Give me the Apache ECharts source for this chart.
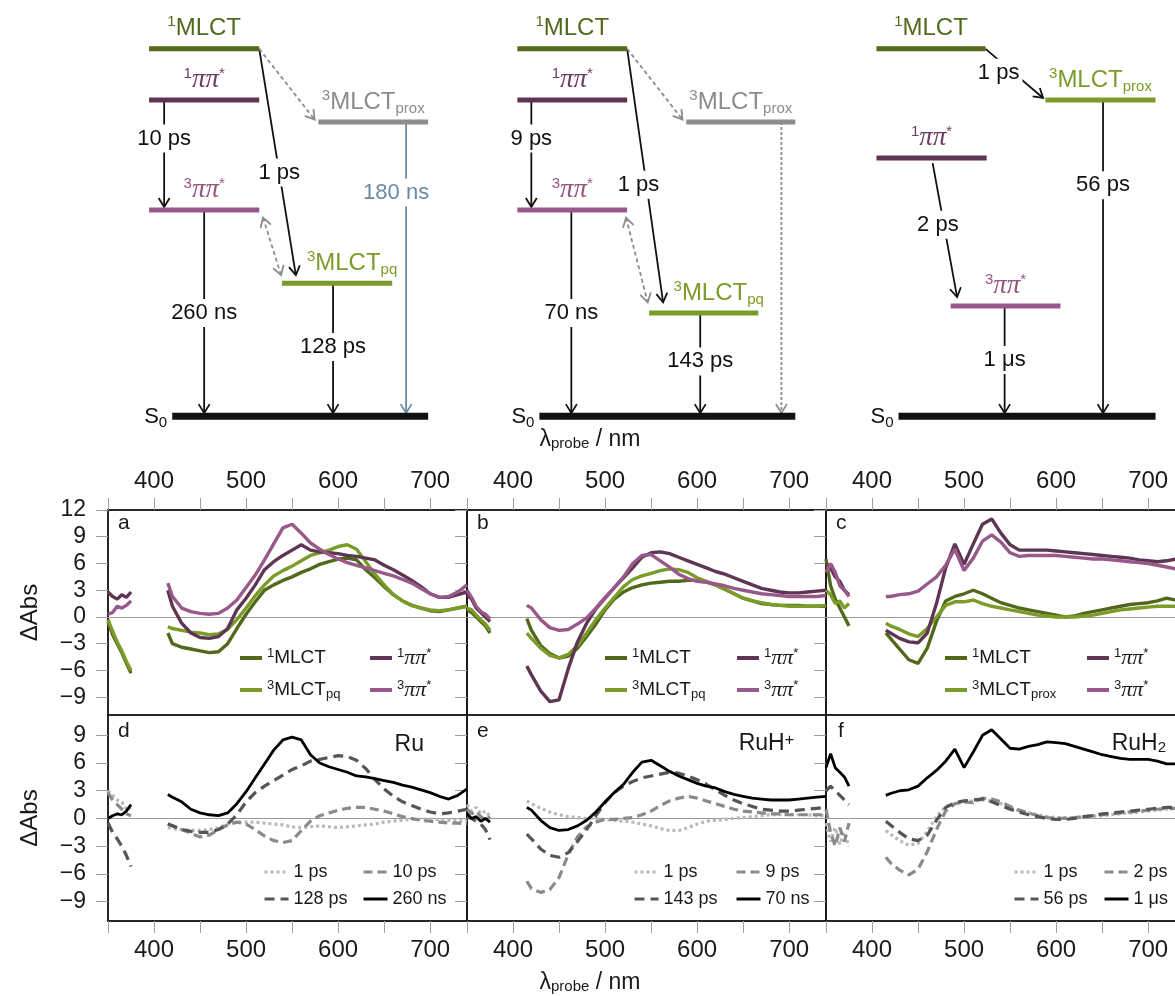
<!DOCTYPE html>
<html><head><meta charset="utf-8">
<script src="https://cdn.jsdelivr.net/npm/echarts@6/dist/echarts.min.js"></script>
<style>html,body{margin:0;padding:0;background:#fff}#c{width:1175px;height:996px}</style>
</head><body><div id="c"></div>
<script>
// ---------------- DATA ----------------
const lam = [350,355,360,365,370,375,395,415,420,430,440,450,460,470,480,490,500,510,520,530,540,550,560,570,580,590,600,610,620,630,640,650,660,670,680,690,700,710,720,730,740];
// panel a (Ru, state spectra)
const a_1MLCT = [-0.5,-2.0,-3.0,-4.0,-5.2,-6.3,null,-1.8,-3.0,-3.4,-3.6,-3.8,-4.0,-3.9,-3.0,-1.3,0.3,1.7,3.0,3.6,4.1,4.5,5.0,5.4,5.9,6.2,6.5,6.6,6.4,5.3,4.4,3.4,2.5,1.8,1.3,1.0,0.7,0.6,0.8,1.0,1.2];
const a_3MLCT = [-0.3,-1.6,-2.8,-3.8,-5.0,-6.0,null,-1.1,-1.3,-1.5,-1.7,-1.8,-2.0,-1.9,-1.4,-0.3,1.0,2.4,3.6,4.6,5.2,5.7,6.3,6.9,7.2,7.5,7.9,8.1,7.6,6.2,4.8,3.6,2.5,1.8,1.3,1.0,0.8,0.7,0.8,1.0,1.2];
const a_1pp = [2.8,2.3,2.0,2.5,2.2,2.8,null,3.0,1.2,-0.7,-1.8,-2.3,-2.4,-2.2,-1.3,0.8,2.1,3.6,5.3,6.2,6.9,7.5,8.1,7.5,7.3,7.2,7.1,6.9,6.8,6.6,6.4,5.8,5.3,4.7,4.1,3.4,2.6,2.2,2.2,2.5,2.8];
const a_3pp = [0.3,0.5,1.2,1.0,1.3,1.8,null,3.8,2.3,1.0,0.6,0.4,0.3,0.4,1.0,1.9,3.3,4.7,6.4,8.2,10.0,10.4,9.4,8.3,7.6,7.0,6.5,6.1,5.8,5.5,5.2,4.9,4.6,4.2,3.8,3.2,2.6,2.2,2.3,2.8,3.6];
// panel b (RuH+)
const b_1MLCT = [0.8,0.5,0.0,-0.5,-1.0,-1.8,null,-0.2,-1.5,-3.2,-4.1,-4.6,-4.4,-3.5,-2.2,-0.8,0.8,2.0,2.8,3.3,3.6,3.8,3.9,4.0,4.0,4.1,4.1,3.9,3.6,3.1,2.6,2.1,1.8,1.5,1.4,1.3,1.3,1.3,1.2,1.2,1.2];
const b_3MLCT = [1.0,0.8,0.2,-0.3,-0.8,-1.5,null,-1.8,-2.4,-3.5,-4.3,-4.6,-4.2,-3.2,-1.8,-0.3,1.0,2.2,3.4,4.2,4.6,4.9,5.2,5.4,5.3,5.0,4.4,4.0,3.6,3.1,2.6,2.1,1.8,1.6,1.4,1.3,1.2,1.2,1.2,1.2,1.3];
const b_1pp = [2.5,2.0,1.0,0.5,0.0,-0.5,null,-5.5,-6.5,-8.3,-9.5,-9.3,-5.8,-2.8,-0.7,0.9,2.1,3.3,4.4,5.5,6.7,7.2,7.3,7.1,6.7,6.3,5.9,5.5,5.1,4.8,4.4,4.0,3.6,3.2,3.0,2.8,2.7,2.7,2.8,2.9,3.0];
const b_3pp = [3.0,2.2,1.2,0.6,0.3,-0.2,null,1.3,1.0,-0.3,-1.2,-1.5,-1.4,-0.8,-0.1,1.0,2.2,3.3,4.5,6.0,6.9,7.0,6.3,5.6,4.8,4.3,4.0,3.9,3.7,3.5,3.2,3.0,2.8,2.6,2.5,2.4,2.3,2.3,2.3,2.3,2.4];
// panel c (RuH2)
const c_1MLCT = [6.5,3.5,2.0,1.0,0.0,-1.0,null,-1.8,-2.4,-3.6,-4.8,-5.2,-3.5,-0.5,1.8,2.3,2.6,3.0,2.6,2.1,1.6,1.3,1.0,0.8,0.6,0.4,0.2,0.0,0.1,0.4,0.6,0.8,1.0,1.2,1.4,1.5,1.6,1.8,2.1,1.9,1.8];
const c_3MLCT = [3.0,2.5,1.5,1.8,1.0,1.5,null,-0.7,-1.0,-1.4,-1.9,-2.2,-1.3,0.0,1.3,1.7,1.7,1.9,1.5,1.2,1.0,0.8,0.6,0.4,0.2,0.1,0.0,0.0,0.0,0.1,0.2,0.4,0.6,0.8,0.9,1.0,1.1,1.2,1.2,1.2,1.2];
const c_1pp = [6.0,5.5,4.5,4.0,3.0,2.5,null,-1.5,-1.8,-2.4,-2.8,-2.9,-1.8,1.5,5.5,8.2,5.9,8.2,10.4,11.0,9.4,8.1,7.5,7.5,7.5,7.5,7.4,7.3,7.2,7.1,7.0,6.9,6.8,6.7,6.6,6.4,6.3,6.2,6.3,6.5,6.6];
const c_3pp = [5.0,6.0,5.0,3.5,3.0,2.3,null,2.3,2.3,2.5,2.6,2.9,3.7,4.5,5.8,7.6,5.2,6.6,8.5,9.2,8.4,7.2,6.8,6.9,6.9,6.9,6.9,6.8,6.7,6.6,6.5,6.5,6.4,6.3,6.2,6.1,6.0,5.8,5.6,5.4,5.3];
// panel d (Ru, time-delay spectra)
const d_1ps = [3.0,2.5,2.0,1.8,1.0,1.2,null,-1.0,-1.1,-1.2,-1.3,-1.3,-1.2,-1.0,-0.6,-0.4,-0.4,-0.4,-0.5,-0.6,-0.7,-0.9,-1.0,-0.9,-0.8,-0.9,-1.0,-0.9,-0.8,-0.7,-0.6,-0.4,-0.3,-0.2,-0.1,-0.1,-0.1,-0.1,-0.2,-0.2,-0.3];
const d_10ps = [2.8,2.0,1.5,1.0,0.5,0.3,null,-0.6,-0.8,-1.2,-1.6,-2.0,-1.8,-1.2,-0.7,-0.4,-0.6,-1.2,-1.9,-2.4,-2.6,-2.4,-1.3,-0.3,0.3,0.6,0.9,1.1,1.2,1.2,1.0,0.8,0.5,0.2,0.0,-0.2,-0.3,-0.4,-0.5,-0.5,-0.6];
const d_128ps = [-0.5,-1.5,-2.2,-3.0,-4.0,-5.2,null,-0.6,-0.8,-1.2,-1.4,-1.5,-1.5,-1.2,-0.6,0.4,1.8,2.8,3.5,4.1,4.7,5.3,5.7,6.2,6.4,6.6,6.8,6.7,6.3,5.4,4.2,3.2,2.4,1.8,1.4,1.0,0.7,0.5,0.6,0.8,1.0];
const d_260ns = [0.0,0.3,0.5,0.4,0.8,1.5,null,2.6,2.3,1.8,1.0,0.6,0.4,0.3,0.6,1.6,2.9,4.4,5.9,7.4,8.5,8.8,8.5,6.9,6.0,5.6,5.3,5.0,4.6,4.5,4.3,4.1,3.9,3.6,3.4,3.1,2.8,2.4,2.1,2.5,3.2];
// panel e (RuH+)
const e_1ps = [1.5,0.8,1.2,0.5,0.8,0.2,null,1.9,1.6,1.1,0.7,0.4,0.2,0.1,0.0,0.0,-0.1,-0.2,-0.3,-0.4,-0.6,-0.8,-1.1,-1.3,-1.3,-1.0,-0.6,-0.3,-0.2,-0.1,0.0,0.1,0.2,0.3,0.4,0.4,0.4,0.4,0.4,0.3,0.3];
const e_9ps = [1.0,0.5,0.8,0.2,-0.2,0.2,null,-6.8,-7.6,-8.0,-7.7,-6.4,-3.9,-2.0,-0.9,-0.4,-0.1,-0.1,0.0,0.1,0.4,0.8,1.4,1.9,2.2,2.4,2.2,1.9,1.6,1.3,1.0,0.8,0.7,0.6,0.5,0.5,0.4,0.4,0.4,0.4,0.4];
const e_143ps = [0.2,0.0,-0.3,-0.6,-1.2,-2.3,null,-1.7,-2.2,-3.3,-4.0,-4.2,-3.7,-2.5,-1.2,0.3,1.7,2.8,3.5,4.0,4.4,4.6,4.8,5.0,4.9,4.6,4.2,3.7,3.1,2.5,2.0,1.6,1.3,1.0,0.9,0.8,0.8,0.9,1.0,1.1,1.2];
const e_70ns = [0.5,0.0,0.2,-0.3,0.0,-0.4,null,1.2,0.9,-0.2,-1.0,-1.3,-1.2,-0.8,-0.2,0.7,1.8,2.8,3.7,5.0,6.1,6.3,5.7,5.1,4.6,4.2,3.8,3.5,3.3,2.9,2.6,2.4,2.2,2.1,2.0,2.0,2.0,2.1,2.2,2.3,2.4];
// panel f (RuH2)
const f_1ps = [-0.5,-2.5,-1.0,-2.8,-1.5,-3.0,null,-1.3,-1.7,-2.4,-2.9,-2.7,-1.4,0.2,1.3,1.6,1.8,1.9,2.0,1.9,1.6,1.2,0.8,0.6,0.4,0.2,0.1,0.1,0.1,0.1,0.2,0.3,0.4,0.5,0.6,0.7,0.8,0.9,1.0,1.1,1.1];
const f_2ps = [1.0,-1.5,-3.0,-1.0,-2.5,-0.5,null,-4.2,-4.8,-5.6,-6.1,-5.5,-3.6,-1.2,0.8,1.6,1.8,1.7,2.2,2.1,1.8,1.3,0.9,0.6,0.3,0.1,0.0,0.0,0.1,0.2,0.3,0.4,0.5,0.6,0.7,0.8,0.9,1.0,1.1,1.1,1.1];
const f_56ps = [3.0,3.5,3.0,2.5,2.0,1.5,null,-0.3,-0.7,-1.5,-2.2,-2.4,-1.8,-0.2,1.2,1.7,1.9,2.0,2.1,1.8,1.4,1.0,0.7,0.4,0.2,0.0,-0.1,-0.1,0.0,0.2,0.3,0.5,0.6,0.7,0.8,0.9,1.0,1.1,1.2,1.2,1.2];
const f_1us = [5.5,7.0,5.5,5.0,4.5,3.5,null,2.5,2.7,3.0,3.1,3.5,4.4,5.2,6.2,7.5,5.5,7.2,9.0,9.6,8.6,7.6,7.5,7.8,8.0,8.3,8.2,8.1,7.8,7.5,7.2,6.9,6.7,6.5,6.4,6.4,6.4,6.2,5.9,5.9,6.0];

const xTickLabels = [400,500,600,700];
const yTicksTop = [-9,-6,-3,0,3,6,9,12];
const yTicksBottom = [-9,-6,-3,0,3,6,9];

// Energy-level schemes: [state, columnFrom, columnTo, energy]
const levelsRu   = [['1MLCT',4.06,7.06,10.0],['1pp',4.06,7.06,8.61],['3MLCTproxG',8.67,11.66,8.01],['3pp',4.06,7.06,5.61],['3MLCTpq',7.68,10.68,3.62],['S0',4.69,11.66,0]];
const levelsRuH  = [['1MLCT',14.09,17.08,10.0],['1pp',14.09,17.08,8.61],['3MLCTproxG',18.69,21.66,8.01],['3pp',14.09,17.08,5.61],['3MLCTpq',17.68,20.65,2.81],['S0',14.69,21.66,0]];
const levelsRuH2 = [['1MLCT',23.87,26.84,10.0],['3MLCTprox',28.47,31.47,8.61],['1pp',23.87,26.87,7.03],['3pp',25.89,28.88,3.0],['S0',24.47,31.47,0]];
// transitions: [colFrom, Efrom, colTo, Eto, kind, lifetime label]
const transRu = [[4.47,8.61,4.47,5.61,'k','10 ps'],[7.06,10.0,8.07,3.76,'k','1 ps'],[7.06,10.0,8.62,8.01,'dash',''],[7.14,5.48,7.68,3.76,'dash2',''],[5.56,5.61,5.56,0,'k','260 ns'],[9.07,3.62,9.07,0,'k','128 ps'],[11.06,8.01,11.06,0,'blue','180 ns']];
const transRuH = [[14.47,8.61,14.47,5.61,'k','9 ps'],[17.08,10.0,18.07,3.02,'k','1 ps'],[17.08,10.0,18.64,8.01,'dash',''],[17.03,5.48,17.66,3.02,'dash2',''],[15.56,5.61,15.56,0,'k','70 ns'],[19.07,2.81,19.07,0,'k','143 ps'],[21.28,8.01,21.28,0,'dot','']];
const transRuH2 = [[26.84,10.0,28.47,8.61,'k','1 ps'],[25.40,6.89,26.08,3.16,'k','2 ps'],[27.36,3.0,27.36,0,'k','1 μs'],[30.04,8.61,30.04,0,'k','56 ps']];
// label placement along arrows (fraction, horizontal nudge) – layout only
const transLabelPos = {
  Ru:[[0.35,0],[0.54,0],null,null,[0.5,0],[0.48,0],[0.24,-10]],
  RuH:[[0.35,0],[0.53,-8],null,null,[0.5,0],[0.47,0],null],
  RuH2:[[0.47,-15],[0.45,-6],[0.49,0],[0.27,0]]
};

// ---------------- STYLE / LAYOUT ----------------
const FF = 'Liberation Sans';
const C1M = '#52691c', C3M = '#7b9c28', C1P = '#5e3553', C3P = '#98588a', CG = '#8c8c8c', CB = '#6a89a6';
const LBL = {
  '1MLCT':'{sup|1}MLCT','3MLCTpq':'{sup|3}MLCT{sub|pq}','3MLCTprox':'{sup|3}MLCT{sub|prox}','3MLCTproxG':'{sup|3}MLCT{sub|prox}',
  '1pp':'{sup|1}{pi|ππ}{sup|*}','3pp':'{sup|3}{pi|ππ}{sup|*}'
};
const gridLefts = [108,467,826], gridW = 359;
const rowTop = [510,715], rowH = [205,206];
const yRange = [[-11,12],[-11.1,11.2]];

const grids = [], xAxes = [], yAxes = [];
for (let r=0;r<2;r++) for (let c=0;c<3;c++) {
  const gi = grids.length;
  grids.push({left:gridLefts[c], top:rowTop[r], width:gridW, height:rowH[r], show:true, borderColor:'#1a1a1a', borderWidth:1.5, backgroundColor:'transparent', containLabel:false, outerBoundsMode:'none'});
  xAxes.push({gridIndex:gi, type:'value', min:350, max:740, interval:50, position: r===0?'top':'bottom',
    axisLine:{show:true, onZero:false, lineStyle:{color:'#1a1a1a', width:1.5}},
    axisTick:{show:true, length:12, inside:false, lineStyle:{color:'#a0a0a0', width:1}},
    axisLabel:{show:true, margin:17, fontSize:24, fontFamily:FF, color:'#1a1a1a', formatter: v => xTickLabels.includes(v) ? String(v) : ''},
    splitLine:{show:false}});
  const ticks = r===0 ? yTicksTop : yTicksBottom;
  yAxes.push({gridIndex:gi, type:'value', min:yRange[r][0], max:yRange[r][1],
    name: c===0 ? 'ΔAbs' : '', nameLocation:'middle', nameGap:66, nameRotate:90,
    nameTextStyle:{fontSize:24, fontFamily:FF, color:'#1a1a1a'},
    axisLine:{show:true, onZero:false, lineStyle:{color:'#1a1a1a', width:1.5}},
    axisTick:{show:true, length:12, inside:false, customValues:ticks, lineStyle:{color:'#a0a0a0', width:1}},
    axisLabel:{show:c===0, customValues:ticks, margin:22, fontSize:23, fontFamily:FF, color:'#1a1a1a', formatter: v => v<0 ? '\u2212'+Math.abs(v) : String(v)},
    splitLine:{show:false}});
}
// schematic grid (energy diagrams)
grids.push({left:0, top:0, width:1175, height:440, show:false, outerBoundsMode:'none'});
xAxes.push({gridIndex:6, type:'value', min:0, max:32, show:false});
yAxes.push({gridIndex:6, type:'value', min:-0.65, max:11.33, show:false});

const STY = {
  '1MLCT':{color:C1M, width:3.4, type:'solid'}, '3MLCTpq':{color:C3M, width:3.4, type:'solid'}, '3MLCTprox':{color:C3M, width:3.4, type:'solid'},
  '1pp':{color:C1P, width:3.4, type:'solid'}, '3pp':{color:C3P, width:3.4, type:'solid'},
  't1':{color:'#b9b9b9', width:3.2, type:[3,3]}, 't2':{color:'#8a8a8a', width:3.2, type:[9,5]},
  't3':{color:'#555555', width:3.2, type:[10,6]}, 't4':{color:'#000000', width:2.8, type:'solid'}
};
const series = [];
function addLine(gi, name, styleKey, vals, zero) {
  const st = STY[styleKey];
  const s = {type:'line', name, xAxisIndex:gi, yAxisIndex:gi, data: lam.map((x,i)=>[x, vals[i]]),
    symbol:'none', showSymbol:false, connectNulls:false, silent:true, animation:false,
    lineStyle:{color:st.color, width:st.width, type:st.type}, itemStyle:{color:st.color}, z:3};
  if (zero) s.markLine = {silent:true, symbol:['none','none'], label:{show:false}, animation:false,
    lineStyle:{color:'#9a9a9a', type:'solid', width:1.2}, data:[{yAxis:0}], z:1};
  series.push(s);
}
addLine(0,'1MLCT','1MLCT',a_1MLCT,true); addLine(0,'3MLCTpq','3MLCTpq',a_3MLCT); addLine(0,'1pp','1pp',a_1pp); addLine(0,'3pp','3pp',a_3pp);
addLine(1,'1MLCT','1MLCT',b_1MLCT,true); addLine(1,'3MLCTpq','3MLCTpq',b_3MLCT); addLine(1,'1pp','1pp',b_1pp); addLine(1,'3pp','3pp',b_3pp);
addLine(2,'1MLCT','1MLCT',c_1MLCT,true); addLine(2,'3MLCTprox','3MLCTprox',c_3MLCT); addLine(2,'1pp','1pp',c_1pp); addLine(2,'3pp','3pp',c_3pp);
addLine(3,'1 ps','t1',d_1ps,true); addLine(3,'10 ps','t2',d_10ps); addLine(3,'128 ps','t3',d_128ps); addLine(3,'260 ns','t4',d_260ns);
addLine(4,'1 ps','t1',e_1ps,true); addLine(4,'9 ps','t2',e_9ps); addLine(4,'143 ps','t3',e_143ps); addLine(4,'70 ns','t4',e_70ns);
addLine(5,'1 ps','t1',f_1ps,true); addLine(5,'2 ps','t2',f_2ps); addLine(5,'56 ps','t3',f_56ps); addLine(5,'1 μs','t4',f_1us);

// ---------- energy diagrams (custom series in schematic grid) ----------
const LEVEL_STY = {
  '1MLCT':{color:C1M, lab:C1M, w:5}, '1pp':{color:C1P, lab:'#6b3d5e', w:5}, '3pp':{color:C3P, lab:'#94557f', w:5},
  '3MLCTpq':{color:C3M, lab:C3M, w:5, dx:15}, '3MLCTprox':{color:C3M, lab:C3M, w:5}, '3MLCTproxG':{color:CG, lab:CG, w:5},
  'S0':{color:'#111', lab:'#111', w:7}
};
const ARROW_STY = {k:{c:'#111',dash:null,lab:'#111'}, dash:{c:'#8c8c8c',dash:[4,3]}, dash2:{c:'#8c8c8c',dash:[4,3]}, dot:{c:'#8c8c8c',dash:[3,2]}, blue:{c:CB,dash:null,lab:CB}};
const RICH = {
  sup:{fontSize:15, fontFamily:FF, verticalAlign:'top', lineHeight:15},
  sub:{fontSize:15, fontFamily:FF, verticalAlign:'bottom', lineHeight:15},
  pi:{fontSize:27, fontFamily:'Liberation Serif', fontStyle:'italic', lineHeight:28}
};
const diagItems = [];
[['Ru',transRu],['RuH',transRuH],['RuH2',transRuH2]].forEach(([k,tr]) => tr.forEach((t,i) => {
  const p = transLabelPos[k][i];
  diagItems.push({kind:'arrow', v:[t[0],t[1],t[2],t[3]], style:t[4], label:t[5], t:p?p[0]:0, dx:p?p[1]:0});
}));
[levelsRu, levelsRuH, levelsRuH2].forEach(lv => lv.forEach(l => diagItems.push({kind:'level', v:[l[1],l[3],l[2],l[3]], state:l[0]})));

function renderDiag(params, api) {
  const it = diagItems[params.dataIndex];
  const p0 = api.coord([api.value(0), api.value(1)]);
  const p1 = api.coord([api.value(2), api.value(3)]);
  if (it.kind === 'level') {
    const st = LEVEL_STY[it.state];
    const ch = [{type:'line', shape:{x1:p0[0],y1:p0[1],x2:p1[0],y2:p1[1]}, style:{stroke:st.color, lineWidth:st.w, lineCap:'butt'}}];
    if (it.state === 'S0') {
      ch.push({type:'text', style:{text:'S{sub|0}', x:p0[0]-5, y:p0[1]+1, align:'right', verticalAlign:'middle', fill:'#111', fontSize:22, fontFamily:FF, lineHeight:26, rich:RICH}});
    } else {
      ch.push({type:'text', style:{text:LBL[it.state], x:(p0[0]+p1[0])/2+(st.dx||0), y:p0[1]-20, align:'center', verticalAlign:'middle', fill:st.lab, fontSize:24, fontFamily:FF, lineHeight:28, rich:RICH}});
    }
    return {type:'group', children:ch};
  }
  const AS = ARROW_STY[it.style];
  const dx = p1[0]-p0[0], dy = p1[1]-p0[1], len = Math.hypot(dx,dy), ux = dx/len, uy = dy/len;
  const sh = 3;
  const a = it.style==='dash2' ? [p0[0]+ux*sh, p0[1]+uy*sh] : p0;
  const b = [p1[0]-ux*sh, p1[1]-uy*sh];
  const head = (tip, vx, vy) => ({type:'polyline', shape:{points:[[tip[0]-vx*9-vy*5.5, tip[1]-vy*9+vx*5.5],[tip[0],tip[1]],[tip[0]-vx*9+vy*5.5, tip[1]-vy*9-vx*5.5]]}, style:{stroke:AS.c, lineWidth:1.8, fill:'none'}});
  const ch = [{type:'line', shape:{x1:a[0],y1:a[1],x2:b[0],y2:b[1]}, style:{stroke:AS.c, lineWidth:1.8, lineDash:AS.dash}}];
  ch.push(head(b, ux, uy));
  if (it.style==='dash2') ch.push(head(a, -ux, -uy));
  if (it.label) {
    ch.push({type:'text', z2:10, style:{text:it.label, x:p0[0]+dx*it.t+it.dx, y:p0[1]+dy*it.t, align:'center', verticalAlign:'middle', fill:AS.lab, fontSize:22, fontFamily:FF, backgroundColor:'#fff', padding:[3,3]}});
  }
  return {type:'group', children:ch};
}
series.push({type:'custom', xAxisIndex:6, yAxisIndex:6, coordinateSystem:'cartesian2d', clip:false, silent:true, animation:false,
  renderItem: renderDiag, data: diagItems.map(d => d.v), z:5});

// ---------------- LEGENDS ----------------
const legendRich = {
  sup:{fontSize:13, fontFamily:FF, verticalAlign:'top', lineHeight:13, color:'#1a1a1a'},
  sub:{fontSize:13, fontFamily:FF, verticalAlign:'bottom', lineHeight:13, color:'#1a1a1a'},
  pi:{fontSize:22, fontFamily:'Liberation Serif', fontStyle:'italic', lineHeight:22, color:'#1a1a1a'}
};
// [name, left, rowCenterY]
const legendPlace = [
  ['1MLCT',238,658],['1pp',368,658],['3MLCTpq',238,690],['3pp',368,690],
  ['1MLCT',603,658],['1pp',735,658],['3MLCTpq',603,690],['3pp',735,690],
  ['1MLCT',943,658],['1pp',1085,658],['3MLCTprox',943,690],['3pp',1085,690],
  ['1 ps',263,872],['10 ps',362,872],['128 ps',263,899],['260 ns',362,899],
  ['1 ps',633,872],['9 ps',735,872],['143 ps',633,899],['70 ns',735,899],
  ['1 ps',1013,872],['2 ps',1103,872],['56 ps',1013,899],['1 μs',1103,899]
];
const legends = legendPlace.map(([n,l,cy],i) => {
  const top = i < 12;
  return {data:[n], left:l, top:cy-11, padding:0, itemGap:0, itemWidth: top?22:24, itemHeight:10, selectedMode:false,
    itemStyle:{opacity:0}, lineStyle:{width: top?4:3},
    formatter: nm => LBL[nm] || nm,
    textStyle:{fontSize: top?19:18, fontFamily:FF, color:'#1a1a1a', lineHeight:22, rich:legendRich}};
});

// ---------------- TEXT ----------------
const txt = (text, x, y, size, align, va, rich) => ({type:'text', silent:true, style:{text, x, y, fontSize:size, fontFamily:FF, fill:'#1a1a1a', align, verticalAlign:va, rich: rich||{}}});
const subRich = {sub:{fontSize:15, fontFamily:FF, verticalAlign:'bottom', lineHeight:15}, sup:{fontSize:16, fontFamily:FF, verticalAlign:'top', lineHeight:16}};
const graphics = [
  txt('a', gridLefts[0]+10, rowTop[0]+3, 21, 'left', 'top'),
  txt('b', gridLefts[1]+10, rowTop[0]+3, 21, 'left', 'top'),
  txt('c', gridLefts[2]+10, rowTop[0]+3, 21, 'left', 'top'),
  txt('d', gridLefts[0]+10, rowTop[1]+6, 21, 'left', 'top'),
  txt('e', gridLefts[1]+10, rowTop[1]+6, 21, 'left', 'top'),
  txt('f', gridLefts[2]+12, rowTop[1]+6, 21, 'left', 'top'),
  txt('Ru', 424, 745, 23, 'right', 'middle'),
  txt('RuH{sup|+}', 794, 744, 23, 'right', 'middle', subRich),
  txt('RuH{sub|2}', 1166, 744, 23, 'right', 'middle', subRich),
  txt('λ{sub|probe} / nm', 590, 440, 23, 'center', 'middle', subRich),
  txt('λ{sub|probe} / nm', 590, 983, 23, 'center', 'middle', subRich)
];

const chart = echarts.init(document.getElementById('c'), null, {renderer:'canvas', width:1175, height:996});
chart.setOption({
  backgroundColor:'#ffffff', animation:false,
  textStyle:{fontFamily:FF},
  grid:grids, xAxis:xAxes, yAxis:yAxes, legend:legends, series:series, graphic:graphics
});
</script></body></html>
